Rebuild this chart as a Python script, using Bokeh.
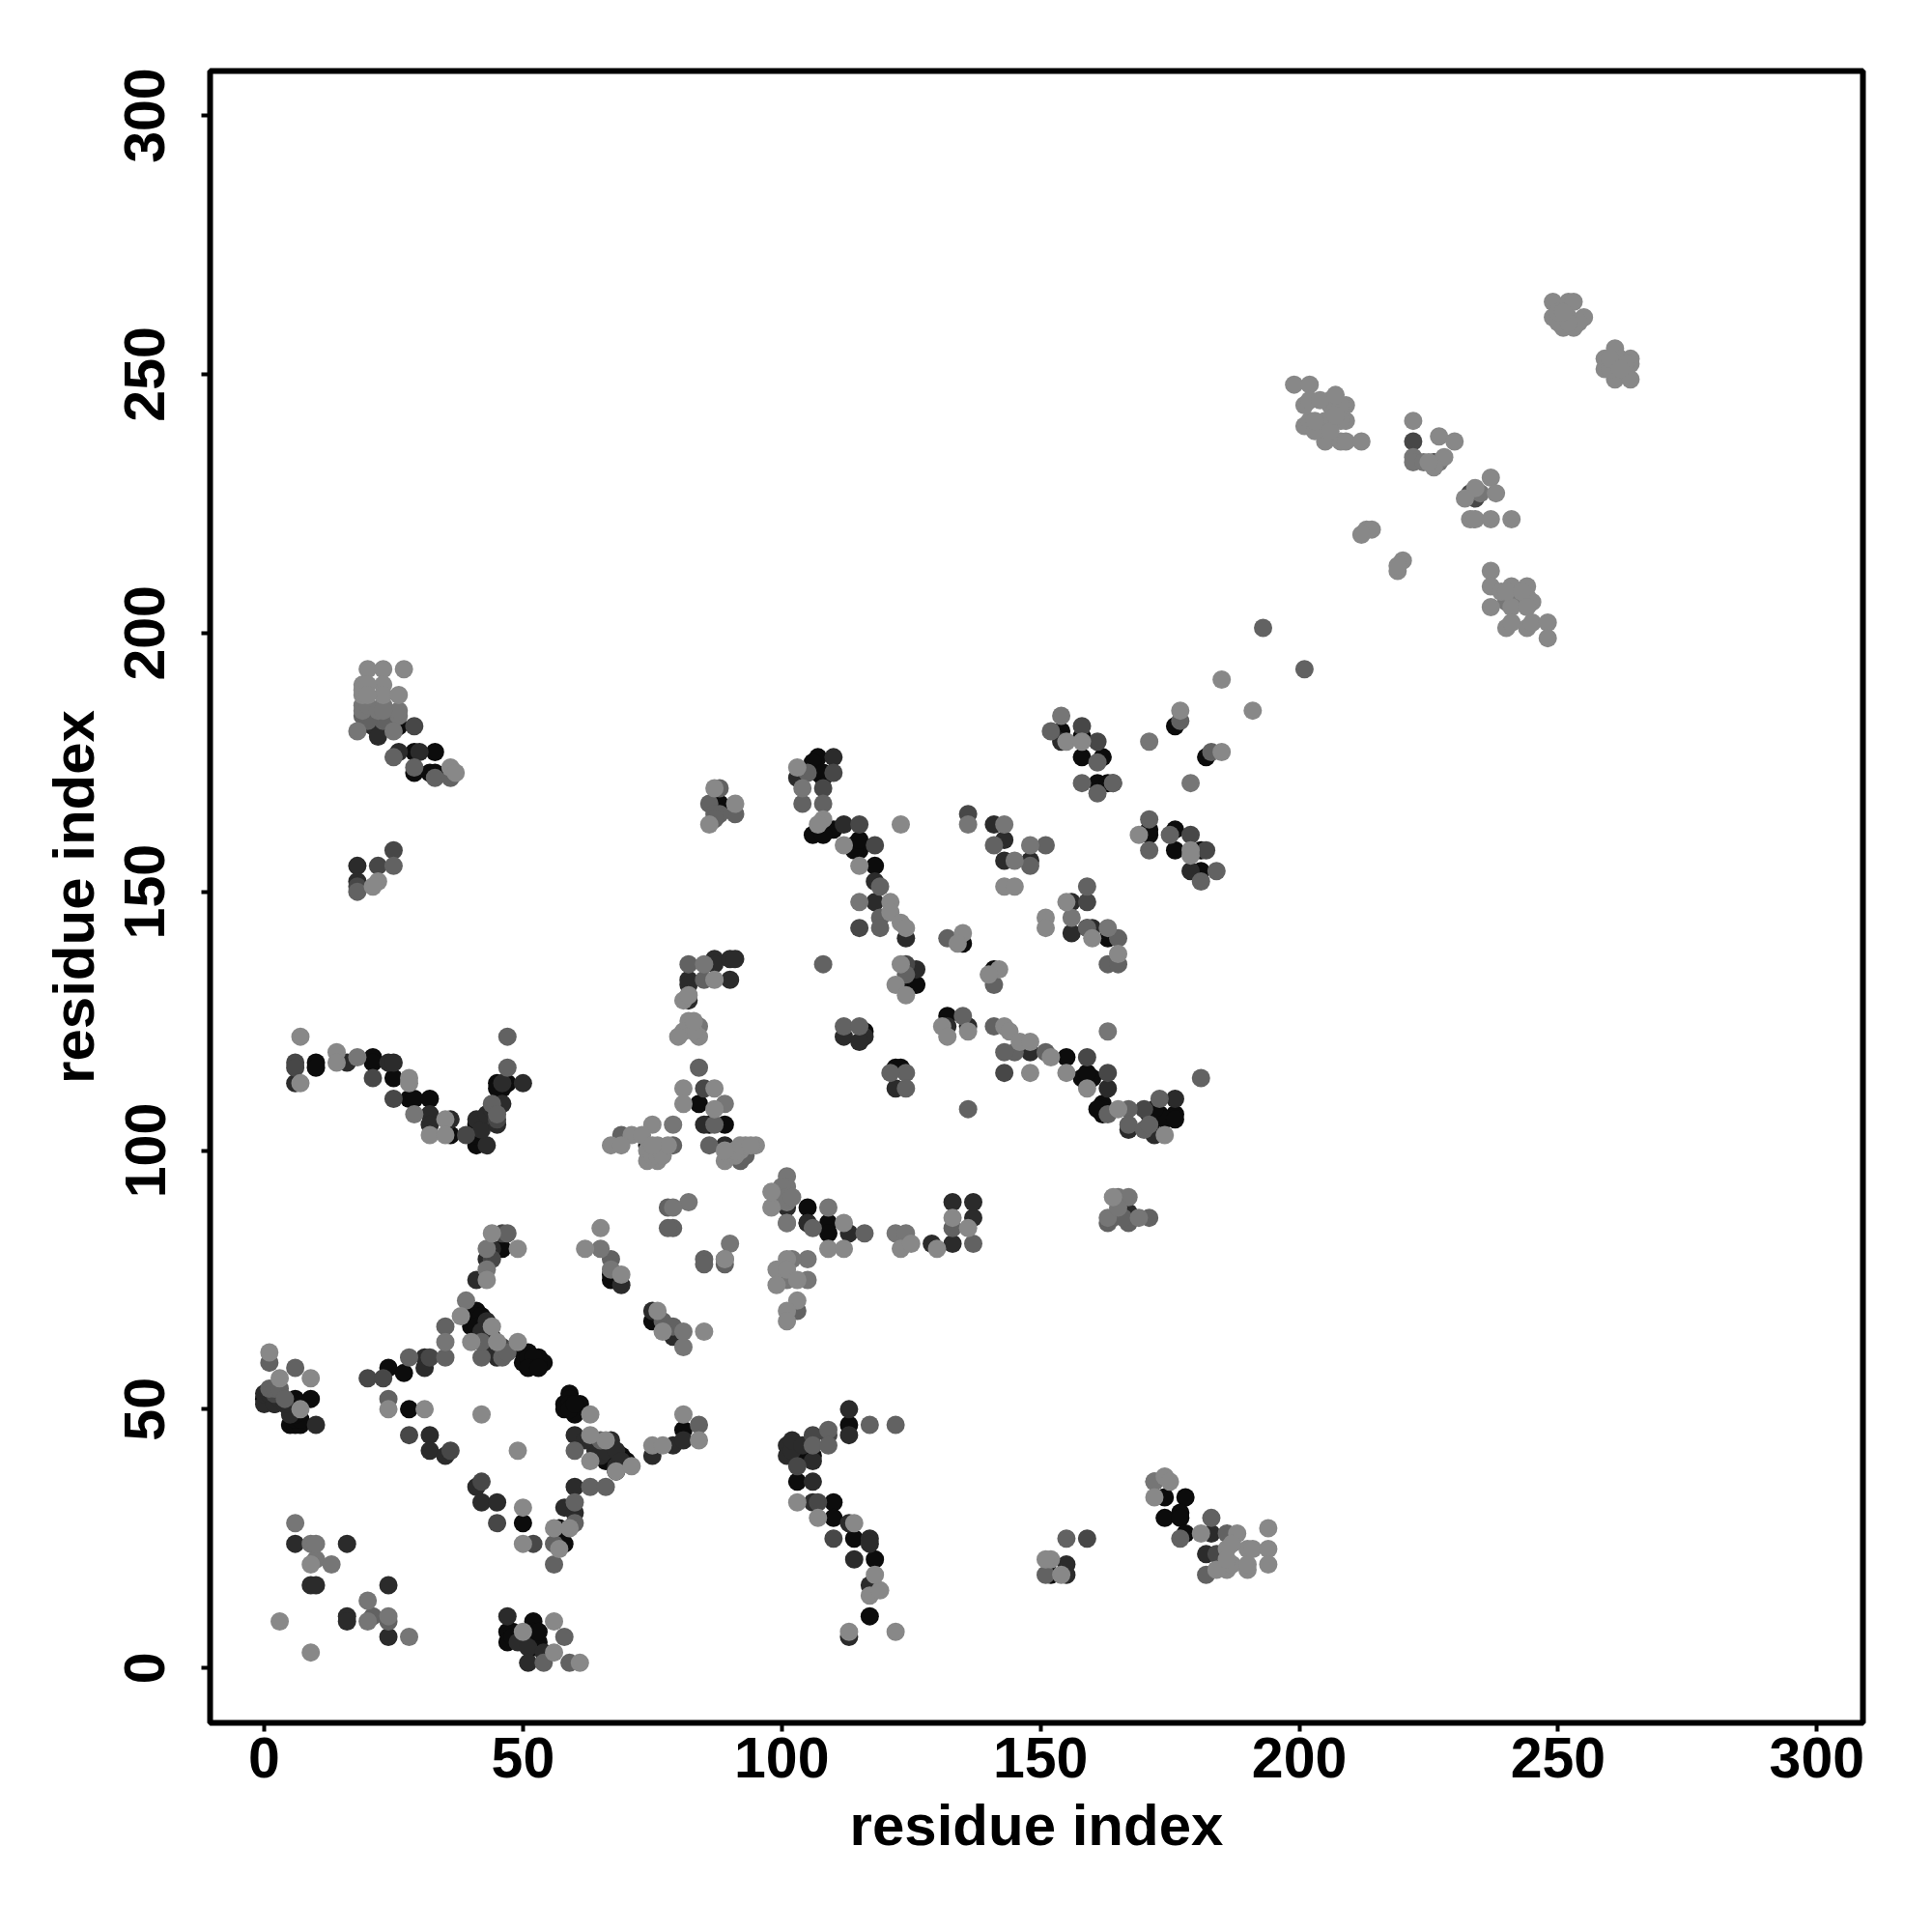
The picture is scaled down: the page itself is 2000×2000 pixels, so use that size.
from bokeh.plotting import figure
from bokeh.models import Range1d, FixedTicker
from bokeh.embed import file_html
from bokeh.resources import INLINE

tick_values = [0, 50, 100, 150, 200, 250, 300]
x_label = "residue index"
y_label = "residue index"

# contacts (residue i, residue j) by grey level, darkest first
shade_black = [(0,52),(6,52),(9,52),(5,47),(6,47),(7,47),(24,58),(27,57),(40,69),(40,66),(41,69),(50,61),(51,61),(50,59),(52,59),(53,60),(54,59),(53,59),
 (46,81),(28,50),(50,28),(57,27),(58,24),(59,53),(58,51),(58,50),(61,51),(60,49),(66,40),(69,41),(81,46),(52,9),(47,7),(47,5),(52,6),
 (109,86),(109,84),(113,47),(106,41),(103,41),(103,36),(110,32),(110,29),(114,25),(118,21),(117,10),(152,18),(174,33),(178,33),(177,30),(174,29),(177,29),(178,26),
 (29,177),(33,177),(29,173),(32,173),(33,173),(26,182),(21,118),(21,117),(10,117),(10,116),(25,114),(28,110),(29,110),(32,110),(36,103),(41,101),(41,103),(45,113),(47,113),(88,167),
 (84,109),(86,105),(89,105),(105,89),(105,86),(74,101),(67,75),(67,76),(75,67),
 (107,176),(107,173),(107,162),(110,162),(114,159),(118,155),(124,132),(126,132),(116,123),(122,116),(123,116),(135,140),(141,135),(132,126),(155,118),(159,114),(162,109),(162,107),(171,107),(173,107),(176,107),
 (154,181),(158,180),(158,176),(162,176),(161,171),(163,171),(176,182),(182,176),(171,161),(171,162),(176,162),(176,158),(181,158),(181,154),(163,141),
 (41,68),(42,68),(41,66),(51,60),(52,60),(51,58),(53,58),(59,52),(59,51),(59,50),(60,51),(68,40),(68,38),(70,40),(41,105),(41,104),(46,112),(45,112),(52,7),(53,5),(52,4),(53,7),(48,7),(48,6),(2,51),(6,48),(7,48),(6,49),(22,183),(106,175),(108,172),(108,173),(106,161),(108,161),(115,158),(114,158),(115,160),(162,108),(161,108),(160,114),(158,114),(159,115),(172,106),(174,106),(176,106),(172,108)]
shade_dark = [(1,52),(3,53),(5,49),(10,47),(31,60),(31,58),(43,67),(45,60),(41,75),(43,79),(44,81),(32,45),(32,42),(35,41),(41,35),(42,32),(45,32),(60,35),(58,31),(60,30),
 (47,10),(49,5),(51,4),(51,1),(54,3),(6,24),(9,16),(10,16),(16,24),(16,10),(16,9),(24,16),(24,6),(60,45),(67,43),(68,39),(75,41),(79,43),(81,44),
 (105,86),(113,84),(133,82),(137,87),(137,90),(133,90),(129,82),(167,88),(165,88),(113,50),(113,45),(101,43),(101,41),(106,36),(106,32),(113,28),(117,25),(117,24),(114,21),(117,16),(113,6),
 (155,18),(155,20),(182,22),(183,26),(22,182),(22,181),(26,177),(30,177),(18,155),(18,152),(6,113),(16,117),(24,117),(25,117),(32,107),(32,105),(36,106),(43,101),(41,106),(46,113),(50,113),
 (87,137),(87,136),(90,137),(91,137),(90,133),(82,133),(82,132),(82,129),(85,105),(89,101),(101,89),(75,69),(79,64),(69,74),
 (110,176),(103,172),(112,163),(118,152),(118,148),(124,141),(126,135),(112,122),(116,122),(115,121),(122,112),(141,163),(143,160),(143,156),(148,156),(156,148),(156,142),(159,143),(160,143),
 (132,124),(148,119),(163,112),(167,104),(172,103),(176,110),(154,179),(164,171),(179,154),(136,124),
 (0,51),(0,53),(1,53),(2,51),(3,52),(4,51),(42,65),(44,61),(44,64),(43,62),(45,61),(64,42),(65,41),(66,42),(67,44),(68,42),(69,40),(62,44),(102,42),(102,44),(104,43),(106,40),(42,104),(43,107),(44,108),(45,105),(46,109),(21,182),(24,182),(22,180),(24,183)]
shade_middark = [(2,53),(20,56),(23,56),(36,42),(42,36),(45,28),(52,24),(44,79),(46,84),(32,60),(46,62),(28,45),(21,114),(25,110),(39,103),(45,106),
 (159,25),(184,22),(6,117),(6,116),(22,155),(25,158),(18,151),(29,182),(106,45),(109,45),(103,39),(107,32),(110,25),(85,112),(136,165),(159,148),(108,170),
 (110,173),(115,163),(118,159),(124,136),(159,118),(163,115),(143,115),(170,108),(179,161),(182,158),(158,182),(161,179),(115,143),(226,233),(234,226),(233,227),(222,237)]
shade_mid = [(1,59),(6,58),(24,52),(35,60),(42,60),(42,63),(35,66),(28,60),(60,42),(60,28),(56,24),(56,20),(63,35),(66,35),(60,32),(65,44),(84,47),(47,84),(58,6),(54,1),(59,1),(21,10),(24,9),
 (85,79),(89,78),(109,46),(106,43),(109,43),(103,69),(116,84),(117,47),(122,47),(137,82),(133,85),(163,86),(167,86),(171,87),(155,25),(151,18),(172,36),(177,25),(183,29),(186,26),(182,18),
 (18,150),(25,155),(19,184),(33,172),(25,176),(29,174),(36,172),(47,122),(47,116),(88,170),(86,167),(91,165),(88,165),(87,165),(87,164),(82,136),(84,116),(85,133),(87,105),
 (69,103),(79,101),(86,101),(92,98),(93,99),(101,86),(106,85),(78,89),(79,85),(78,85),(85,78),(89,79),(77,67),(79,66),(67,79),
 (104,167),(108,167),(105,173),(119,151),(119,145),(119,143),(124,134),(124,115),(121,115),(124,112),(108,136),(136,108),(112,124),(115,124),(141,159),(151,159),(148,155),
 (159,151),(159,143),(165,141),(163,136),(165,136),(132,141),(141,132),(135,126),(141,124),(145,119),(143,119),(151,119),(167,108),(163,107),(167,105),(170,104),(171,105),(173,110),
 (152,181),(161,175),(158,171),(161,169),(177,183),(183,177),(171,164),(171,158),(175,161),(184,154),(181,152),(181,114),(193,201),(201,193),(164,171),
 (1,54),(2,54),(3,54),(4,52),(46,60),(47,61),(44,109),(45,107),(164,87),(166,87),(23,183),(20,183)]
shade_midlight = [(6,28),(9,24),(10,21),(13,20),(20,13),(24,10),(28,6),(35,63),(39,71),(43,81),(43,77),(20,9),(10,24),(26,184),(19,186),(23,186),(18,181),(26,185),(25,181),
 (101,86),(105,79),(105,75),(122,84),(124,84),(172,36),(18,118),(29,107),(84,124),(85,136),(79,105),(89,109),(101,95),(101,93),(100,91),(109,89),(82,90),(79,89),(65,81),(67,77),
 (90,82),(81,65),(81,62),(104,170),(115,148),(143,163),(136,163),(148,159),(156,145),(145,156),(163,143),(154,184),(171,179),(179,171),(163,123),(222,234),(222,233),
 (19,185),(20,186),(22,185),(23,185),(165,91),(167,91),(163,87),(165,89),(169,87),(240,206),(242,206),(224,233),(227,233),(235,227),(102,79),(101,75),(99,90),(99,91),(100,92),(100,93),(101,91),(101,90),(102,91)]
shade_light = [(1,61),(9,56),(3,56),(7,50),(49,63),(38,68),(44,66),(40,63),(45,63),(43,75),(49,81),(44,84),(24,50),(31,50),(42,49),(49,42),(50,31),(50,24),(66,44),(63,49),(63,45),(63,40),(68,38),(71,39),(75,43),(77,43),(81,49),(84,44),
 (56,27),(59,27),(57,23),(56,9),(56,3),(61,1),(3,9),(9,3),(9,20),(50,7),
 (109,81),(112,81),(112,86),(123,81),(125,82),(130,81),(133,87),(136,85),(101,79),(99,77),(101,77),(99,74),(103,75),(103,71),(101,69),(101,67),(85,65),(89,79),
 (113,7),(122,7),(117,14),(119,15),(118,18),(114,28),(107,29),(103,32),(152,21),(151,21),(154,18),(174,37),(175,36),(172,33),(181,26),(188,26),(194,27),
 (186,23),(190,23),(191,23),(194,23),(186,19),(190,19),(194,20),(187,20),(190,20),(184,19),(187,24),(186,21),
 (20,193),(23,193),(27,193),(19,190),(19,188),(23,190),(23,188),(26,188),(36,174),(37,173),(22,152),(21,151),(7,122),(7,113),(14,119),(14,117),(28,114),(28,113),(32,103),(35,106),(35,103),(87,170),(91,167),(86,163),
 (81,129),(82,130),(87,133),(82,125),(81,123),(84,122),(81,112),(81,109),(87,112),(87,108),(75,105),(71,103),(73,103),(67,101),(69,101),(76,101),(76,98),(74,98),(77,100),(89,98),(93,101),(95,101),(92,100),
 (98,89),(98,92),(65,85),(62,81),(69,76),(76,69),(77,65),
 (103,174),(108,164),(107,163),(112,159),(115,155),(121,148),(121,146),(123,144),(124,143),(123,163),(123,136),(122,132),(124,130),(143,151),(145,151),(155,148),(151,145),(151,143),(160,141),(165,138),(135,142),(134,140),(142,135),(140,134),
 (131,124),(132,122),(136,123),(143,124),(144,123),(146,121),(148,121),(152,118),(148,115),(155,115),(159,112),(165,108),(174,103),(155,179),(158,179),(177,185),(185,191),(191,185),(185,177),(169,161),(179,158),(179,157),
 (199,248),(202,248),(201,244),(202,245),(201,240),(202,241),(205,241),(205,237),(206,245),(206,244),(209,244),(208,244),(209,241),(208,241),(208,237),(209,237),(212,237),
 (222,241),(227,238),(230,237),(228,234),(226,232),(225,233),(237,230),(234,228),(238,227),(232,226),(233,222),(234,222),(237,222),(241,222),
 (213,220),(214,220),(212,219),(220,214),(219,212),(219,213),(237,212),(237,209),(237,205),(241,209),(244,209),(241,205),(245,206),(244,207),(240,201),(244,201),(241,202),(245,202),(248,202),(248,199),
 (249,264),(252,264),(253,264),(249,261),(255,261),(251,259),(253,259),(252,261),(254,260),(261,255),(259,253),(259,251),(264,253),(264,252),(261,252),(261,249),(264,249),(260,251),
 (19,189),(20,190),(20,188),(164,91),(239,208),(240,208),(243,208),(244,205),(204,245),(207,246),(203,239),(206,239),(207,242),(203,241),(262,253),(263,252),(260,253),(262,251),(250,260),(252,260),(250,262),(251,262),(74,100),(75,99),(76,99),(77,99),(78,101),(75,101),(90,99),(91,99),(91,100),(92,101),(94,101),(89,100),(83,123),(83,125),(80,122)]

layers = [(shade_black, "#0c0c0c"), (shade_dark, "#2b2b2b"), (shade_middark, "#474747"),
          (shade_mid, "#626262"), (shade_midlight, "#767676"), (shade_light, "#888888")]

FONT = "Liberation Sans"
p = figure(width=1984, height=1984, frame_width=1711, frame_height=1710,
           x_range=Range1d(-10.45, 308.9), y_range=Range1d(-10.6, 308.6),
           output_backend="svg", toolbar_location=None,
           min_border_left=217, min_border_top=73, min_border_right=50, min_border_bottom=50)
p.grid.visible = False
p.background_fill_color = "white"
p.outline_line_color = "black"
p.outline_line_width = 6

for pts, colour in layers:
    p.scatter([a for a, _ in pts], [b for _, b in pts], size=19, fill_color=colour, line_color=None)

for ax, lab in ((p.xaxis[0], x_label), (p.yaxis[0], y_label)):
    ax.ticker = FixedTicker(ticks=tick_values)
    ax.axis_label = lab
    ax.axis_label_text_font = FONT
    ax.axis_label_text_font_style = "bold"
    ax.axis_label_text_font_size = "60px"
    ax.axis_label_text_color = "black"
    ax.major_label_text_font = FONT
    ax.major_label_text_font_style = "bold"
    ax.major_label_text_font_size = "59px"
    ax.major_label_text_color = "black"
    ax.axis_line_color = None
    ax.major_tick_line_color = "black"
    ax.major_tick_line_width = 4
    ax.major_tick_out = 9
    ax.major_tick_in = 0
    ax.minor_tick_line_color = None
p.xaxis[0].major_label_standoff = 6
p.xaxis[0].axis_label_standoff = 13
p.yaxis[0].major_label_standoff = 38
p.yaxis[0].axis_label_standoff = 17
p.yaxis[0].major_label_orientation = "vertical"

open("out.html", "w").write(file_html(p, INLINE))
